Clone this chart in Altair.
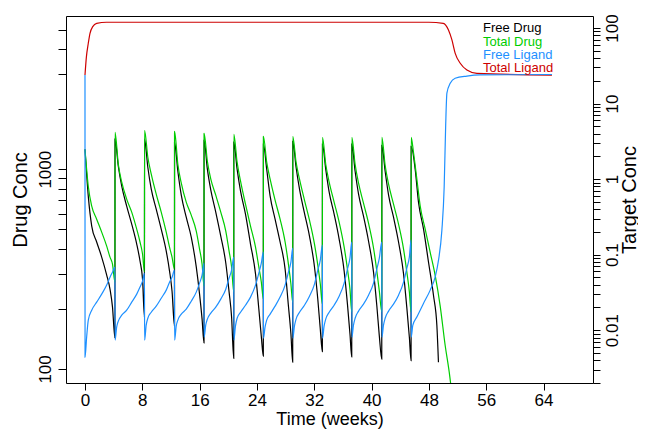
import altair as alt
import pandas as pd

# ---- dosing times (weeks) read from the spikes ----
doses = [0, 4.19, 8.31, 12.50, 16.62, 20.77, 24.90, 29.00, 33.14, 37.24, 41.43, 45.52]

# sampling grid inside each dosing interval (weeks after the dose)
drug_offsets = [0, 0.46, 0.94, 1.63, 2.33, 3.03, 3.49, 3.84]
ligand_offsets = [0.01, 0.23, 0.46, 0.94, 1.63, 2.33, 3.03, 3.49, 3.84]

# Free Drug: values at the grid points, last value = trough just before next dose
free_drug_cycles = [
    [1259, 733, 519, 432, 363, 295, 251, 204, 143],
    [1413, 1035, 822, 653, 531, 422, 347, 282, 182],
    [1413, 1023, 794, 631, 501, 389, 309, 245, 164],
    [1365, 977, 741, 575, 457, 324, 237, 178, 135],
    [1396, 1000, 785, 610, 462, 339, 243, 182, 113],
    [1365, 1000, 776, 596, 422, 299, 200, 145, 116],
    [1334, 1000, 733, 562, 432, 316, 207, 150, 108],
    [1380, 1023, 794, 603, 462, 324, 224, 158, 122],
    [1334, 1000, 767, 596, 447, 309, 211, 150, 115],
    [1334, 977, 750, 582, 437, 305, 207, 146, 112],
    [1318, 977, 741, 575, 432, 299, 202, 144, 110],
]
free_drug_tail_t = [45.52, 46.08, 46.55, 47.25, 47.95, 48.64, 49.11, 49.33]
free_drug_tail_v = [1303, 1000, 682, 501, 341, 233, 165, 108]

# Total Drug
total_drug_cycles = [
    [1259, 822, 653, 562, 484, 412, 363, 335, 272],
    [1531, 1059, 861, 708, 610, 501, 432, 376, 305],
    [1567, 1148, 944, 750, 610, 484, 407, 363, 316],
    [1549, 1059, 851, 684, 589, 490, 398, 335, 260],
    [1514, 1096, 891, 741, 610, 490, 389, 324, 243],
    [1496, 1084, 871, 668, 519, 407, 324, 272, 224],
    [1462, 1084, 891, 700, 562, 432, 335, 266, 216],
    [1462, 1084, 891, 700, 556, 422, 331, 266, 211],
    [1445, 1059, 861, 684, 543, 407, 316, 251, 193],
    [1445, 1059, 851, 676, 537, 403, 309, 245, 193],
    [1445, 1047, 841, 668, 531, 398, 305, 243, 193],
]
total_drug_tail_t = [45.52, 45.85, 46.32, 46.78, 47.48, 48.18, 48.88, 49.57, 50.27, 50.83, 51.3]
total_drug_tail_v = [1445, 1212, 891, 655, 501, 383, 293, 207, 131, 96.6, 70]

# Free Ligand (right axis)
free_ligand_start_t = [0.0]
free_ligand_start_v = [23.8]
free_ligand_cycles = [
    [0.00439, 0.00807, 0.0136, 0.0184, 0.0235, 0.0300, 0.0395, 0.0503, 0.0586, 0.0683],
    [0.00738, 0.01096, 0.0132, 0.0158, 0.0184, 0.0235, 0.0300, 0.0372, 0.0446, 0.0569],
    [0.00738, 0.01164, 0.0144, 0.0173, 0.0208, 0.0265, 0.0339, 0.0432, 0.0503, 0.0623],
    [0.00738, 0.0113, 0.0136, 0.0163, 0.0190, 0.0242, 0.0319, 0.0420, 0.0535, 0.0771],
    [0.00807, 0.01164, 0.0140, 0.0168, 0.0202, 0.0258, 0.0349, 0.0489, 0.0623, 0.0927],
    [0.00738, 0.0113, 0.0144, 0.0173, 0.0214, 0.0274, 0.0395, 0.0569, 0.0771, 0.1079],
    [0.00783, 0.01096, 0.0136, 0.0163, 0.0208, 0.0274, 0.0395, 0.0586, 0.0796, 0.1219],
    [0.00783, 0.0113, 0.0140, 0.0173, 0.0214, 0.0282, 0.0407, 0.0623, 0.0845, 0.1337],
    [0.00783, 0.0113, 0.0140, 0.0173, 0.0214, 0.0282, 0.0420, 0.0643, 0.0899, 0.1466],
    [0.00807, 0.01164, 0.0144, 0.0179, 0.0221, 0.0291, 0.0420, 0.0643, 0.0899, 0.1466],
    [0.00807, 0.01164, 0.0144, 0.0179, 0.0221, 0.0291, 0.0432, 0.0662, 0.0927, 0.1556],
]
free_ligand_tail_t = [45.53, 45.75, 46.32, 47.24, 48.18, 48.88, 49.34, 49.81, 50.13,
                      50.34, 50.51, 50.97, 51.66, 53.30, 55.16, 65.17]
free_ligand_tail_v = [0.00807, 0.0116, 0.0150, 0.0226, 0.0339, 0.0508, 0.0845, 0.211, 0.79,
                      5.19, 13.7, 18.5, 21.6, 23.1, 23.9, 24.2]

# Total Ligand (right axis)
total_ligand_t = [0, 0.2, 0.46, 0.70, 1.08, 1.63, 3.0, 10, 20, 30, 40, 48, 50.0,
                  50.73, 51.21, 51.67, 52.37, 53.30, 54.70, 65.17]
total_ligand_v = [23.8, 41.7, 62.7, 85.1, 104, 115, 119, 119, 119, 119, 119, 119, 115,
                  94, 69.4, 46.2, 34.1, 27.8, 25.1, 23.8]

x_ticks = [0, 8, 16, 24, 32, 40, 48, 56, 64]
left_ticks = [100, 200, 300, 400, 500, 600, 700, 800, 900,
              1000, 2000, 3000, 4000, 5000]
right_ticks = [0.002, 0.003, 0.004, 0.005, 0.006, 0.007, 0.008, 0.009,
               0.01, 0.02, 0.03, 0.04, 0.05, 0.06, 0.07, 0.08, 0.09,
               0.1, 0.2, 0.3, 0.4, 0.5, 0.6, 0.7, 0.8, 0.9,
               1, 2, 3, 4, 5, 6, 7, 8, 9,
               10, 20, 30, 40, 50, 60, 70, 80, 90, 100]

legend_labels = ["Free Drug", "Total Drug", "Free Ligand", "Total Ligand"]
legend_colors = ["#000000", "#00CD00", "#1E90FF", "#CD0000"]


def build(cycles, offsets, tail_t, tail_v, head_t=None, head_v=None):
    ts, vs = [], []
    if head_t:
        ts += head_t
        vs += head_v
    for k, vals in enumerate(cycles):
        d, nd = doses[k], doses[k + 1]
        for off, v in zip(offsets, vals[:-1]):
            ts.append(d + off)
            vs.append(v)
        ts.append(nd - 0.01)
        vs.append(vals[-1])
    ts += tail_t
    vs += tail_v
    return pd.DataFrame({"t": ts, "v": vs})


df_free_drug = build(free_drug_cycles, drug_offsets, free_drug_tail_t, free_drug_tail_v)
df_total_drug = build(total_drug_cycles, drug_offsets, total_drug_tail_t, total_drug_tail_v)
df_free_lig = build(free_ligand_cycles, ligand_offsets, free_ligand_tail_t, free_ligand_tail_v,
                    free_ligand_start_t, free_ligand_start_v)
df_total_lig = pd.DataFrame({"t": total_ligand_t, "v": total_ligand_v})

FONT = "Liberation Sans"

X = alt.X("t:Q",
          scale=alt.Scale(domain=[-2.65, 70.9], nice=False, zero=False),
          axis=alt.Axis(values=x_ticks, title="Time (weeks)", tickSize=7,
                        labelPadding=2, titlePadding=2, titleFontSize=18,
                        format="d"))

left_axis = alt.Axis(orient="left", values=left_ticks, title="Drug Conc",
                     labelExpr="(datum.value == 100 || datum.value == 1000) ? format(datum.value, 'd') : ''",
                     labelAngle=-90, labelAlign="center", labelBaseline="bottom",
                     labelPadding=4, tickSize=8, titlePadding=6)
YL = alt.Y("v:Q", scale=alt.Scale(type="log", domain=[85, 5850], nice=False),
           axis=left_axis)

right_axis = alt.Axis(orient="right", values=right_ticks, title="Target Conc",
                      labelExpr="(datum.value == 0.01 || datum.value == 0.1 || datum.value == 1 || datum.value == 10 || datum.value == 100) ? format(datum.value, '~g') : ''",
                      labelAngle=-90, labelAlign="center", labelBaseline="top",
                      labelPadding=4, tickSize=7, titleAngle=-90,
                      titleBaseline="top", titlePadding=-1)
YR = alt.Y("v:Q", scale=alt.Scale(type="log", domain=[0.002, 144], nice=False),
           axis=right_axis)

line_kw = dict(strokeWidth=1.2, interpolate="monotone", clip=True)

black = alt.Chart(df_free_drug).mark_line(color=legend_colors[0], **line_kw).encode(x=X, y=YL)
green = alt.Chart(df_total_drug).mark_line(color=legend_colors[1], **line_kw).encode(x=X, y=YL)
red = alt.Chart(df_total_lig).mark_line(color=legend_colors[3], **line_kw).encode(x=X, y=YR)
blue = alt.Chart(df_free_lig).mark_line(color=legend_colors[2], **line_kw).encode(x=X, y=YR)

left = alt.layer(black, green)
right = alt.layer(red, blue)

legend_y = [12, 26, 39, 52]
texts = []
for lab, col, yy in zip(legend_labels, legend_colors, legend_y):
    texts.append(
        alt.Chart(pd.DataFrame({"label": [lab]})).mark_text(
            align="left", baseline="middle", fontSize=13, font=FONT, color=col
        ).encode(x=alt.value(417), y=alt.value(yy), text="label:N")
    )

chart = alt.layer(left, right, *texts).resolve_scale(y="independent").properties(
    width=527, height=367,
    padding={"left": 58, "top": 8, "right": 45, "bottom": 47},
    autosize=alt.AutoSizeParams(type="none"),
).configure_view(
    stroke="black", strokeWidth=1
).configure_axis(
    grid=False, domain=False, tickColor="black", tickWidth=1,
    labelColor="black", titleColor="black",
    labelFont=FONT, titleFont=FONT, titleFontWeight="normal",
    labelFontSize=17, titleFontSize=20, labelFlush=False, labelOverlap=False
)

chart.save("out.html", embed_options={"renderer": "svg", "actions": False})
